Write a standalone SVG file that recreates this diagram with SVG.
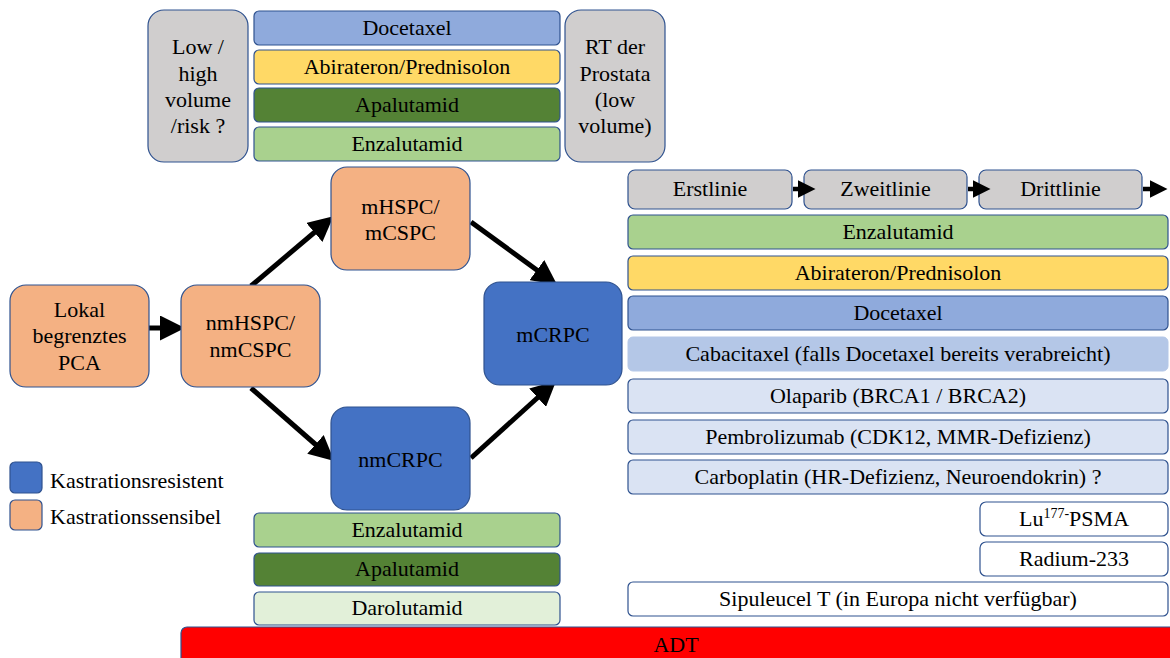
<svg xmlns="http://www.w3.org/2000/svg" width="1170" height="658" viewBox="0 0 1170 658">
<defs>
<style>
text{font-family:"Liberation Serif","Times New Roman",serif;font-size:22px;fill:#000;text-anchor:middle}
.b{stroke:#2F528F;stroke-width:1.2}
.gray{fill:#D0CECE}
.org{fill:#F4B183}
.blu{fill:#4472C4}
.doc{fill:#8FAADC}
.abi{fill:#FFD966}
.apa{fill:#548235}
.enz{fill:#A9D18E}
.dar{fill:#E2F0D9}
.cab{fill:#B4C7E7}
.lt{fill:#DAE3F3}
.wh{fill:#FFFFFF}
.arr{stroke:#000;stroke-width:5;fill:none;marker-end:url(#ah)}
.arrs{stroke:#000;stroke-width:4.5;fill:none;marker-end:url(#ahs)}
</style>
<marker id="ah" markerWidth="5" markerHeight="5" refX="2" refY="2.5" orient="auto" markerUnits="strokeWidth">
<path d="M0,0 L5,2.5 L0,5 Z" fill="#000"/>
</marker>
<marker id="ahs" markerWidth="4" markerHeight="4" refX="1" refY="2" orient="auto" markerUnits="strokeWidth">
<path d="M0,0 L4,2 L0,4 Z" fill="#000"/>
</marker>
</defs>
<rect width="1170" height="658" fill="#fff"/>

<g id="connectors">
<line class="arr" x1="149" y1="328" x2="170" y2="328"/>
<line class="arr" x1="251" y1="286" x2="322" y2="226"/>
<line class="arr" x1="471" y1="222" x2="545" y2="276"/>
<line class="arr" x1="251" y1="388" x2="323" y2="451"/>
<line class="arr" x1="471" y1="458" x2="545" y2="391"/>
</g>

<g id="low-high">
<rect class="b gray" x="148" y="10" width="100" height="152" rx="16"/>
<text x="198" y="54">Low /</text>
<text x="198" y="81">high</text>
<text x="198" y="107">volume</text>
<text x="198" y="133">/risk ?</text>
</g>
<g id="top-docetaxel"><rect class="b doc" x="254" y="11" width="306" height="34" rx="5"/><text x="407" y="35">Docetaxel</text></g>
<g id="top-abirateron"><rect class="b abi" x="254" y="50" width="306" height="34" rx="5"/><text x="407" y="74">Abirateron/Prednisolon</text></g>
<g id="top-apalutamid"><rect class="b apa" x="254" y="88" width="306" height="34" rx="5"/><text x="407" y="112">Apalutamid</text></g>
<g id="top-enzalutamid"><rect class="b enz" x="254" y="127" width="306" height="34" rx="5"/><text x="407" y="151">Enzalutamid</text></g>
<g id="rt-prostata">
<rect class="b gray" x="565" y="10" width="100" height="152" rx="16"/>
<text x="615" y="54">RT der</text>
<text x="615" y="81">Prostata</text>
<text x="615" y="107">(low</text>
<text x="615" y="133">volume)</text>
</g>

<g id="lokal">
<rect class="b org" x="10" y="285" width="139" height="102" rx="16"/>
<text x="79.5" y="317">Lokal</text>
<text x="79.5" y="343">begrenztes</text>
<text x="79.5" y="370">PCA</text>
</g>
<g id="nmhspc">
<rect class="b org" x="181" y="285" width="139" height="102" rx="16"/>
<text x="250.5" y="330">nmHSPC/</text>
<text x="250.5" y="357">nmCSPC</text>
</g>
<g id="mhspc">
<rect class="b org" x="331" y="167" width="139" height="103" rx="16"/>
<text x="400.5" y="214">mHSPC/</text>
<text x="400.5" y="240">mCSPC</text>
</g>
<g id="mcrpc">
<rect class="b blu" x="484" y="282" width="138" height="103" rx="16"/>
<text x="553" y="342">mCRPC</text>
</g>
<g id="nmcrpc">
<rect class="b blu" x="331" y="407" width="139" height="103" rx="16"/>
<text x="400.5" y="467">nmCRPC</text>
</g>

<g id="legend">
<rect class="b blu" x="10" y="462" width="32" height="31" rx="5"/>
<rect class="b org" x="10" y="500" width="32" height="30" rx="5"/>
<text x="50" y="488" style="text-anchor:start">Kastrationsresistent</text>
<text x="50" y="524" style="text-anchor:start">Kastrationssensibel</text>
</g>

<g id="bot-enzalutamid"><rect class="b enz" x="254" y="513" width="306" height="34" rx="5"/><text x="407" y="537">Enzalutamid</text></g>
<g id="bot-apalutamid"><rect class="b apa" x="254" y="553" width="306" height="33" rx="5"/><text x="407" y="576">Apalutamid</text></g>
<g id="bot-darolutamid"><rect class="b dar" x="254" y="592" width="306" height="33" rx="5"/><text x="407" y="615">Darolutamid</text></g>

<g id="adt"><rect class="b" fill="#FF0000" x="181" y="627" width="995" height="40" rx="6"/><text x="676" y="652">ADT</text></g>

<g id="erstlinie"><rect class="b gray" x="628" y="170" width="164" height="39" rx="7"/><text x="710" y="196">Erstlinie</text></g>
<g id="zweitlinie"><rect class="b gray" x="804" y="170" width="163" height="39" rx="7"/><text x="885.5" y="196">Zweitlinie</text></g>
<g id="drittlinie"><rect class="b gray" x="979" y="170" width="163" height="39" rx="7"/><text x="1060.5" y="196">Drittlinie</text></g>

<g id="header-arrows">
<line class="arrs" x1="793" y1="189" x2="802" y2="189"/>
<line class="arrs" x1="968" y1="189" x2="977" y2="189"/>
<line class="arrs" x1="1143" y1="189" x2="1154" y2="189"/>
</g>

<g id="r-enzalutamid"><rect class="b enz" x="628" y="215" width="540" height="34" rx="5"/><text x="898" y="239">Enzalutamid</text></g>
<g id="r-abirateron"><rect class="b abi" x="628" y="256" width="540" height="34" rx="5"/><text x="898" y="280">Abirateron/Prednisolon</text></g>
<g id="r-docetaxel"><rect class="b doc" x="628" y="296" width="540" height="34" rx="5"/><text x="898" y="320">Docetaxel</text></g>
<g id="r-cabacitaxel"><rect class="cab" stroke="#B4C7E7" x="628" y="337" width="540" height="34" rx="5"/><text x="898" y="361">Cabacitaxel (falls Docetaxel bereits verabreicht)</text></g>
<g id="r-olaparib"><rect class="b lt" x="628" y="379" width="540" height="34" rx="5"/><text x="898" y="403">Olaparib (BRCA1 / BRCA2)</text></g>
<g id="r-pembrolizumab"><rect class="b lt" x="628" y="420" width="540" height="34" rx="5"/><text x="898" y="444">Pembrolizumab (CDK12, MMR-Defizienz)</text></g>
<g id="r-carboplatin"><rect class="b lt" x="628" y="460" width="540" height="34" rx="5"/><text x="898" y="484">Carboplatin (HR-Defizienz, Neuroendokrin) ?</text></g>
<g id="r-lu177"><rect class="b wh" x="980" y="502" width="188" height="34" rx="6"/><text x="1074" y="526">Lu<tspan font-size="14" dy="-8">177-</tspan><tspan dy="8">PSMA</tspan></text></g>
<g id="r-radium"><rect class="b wh" x="980" y="542" width="188" height="34" rx="6"/><text x="1074" y="566">Radium-233</text></g>
<g id="r-sipuleucel"><rect class="b wh" x="628" y="582" width="540" height="34" rx="5"/><text x="898" y="606">Sipuleucel T (in Europa nicht verfügbar)</text></g>
</svg>
